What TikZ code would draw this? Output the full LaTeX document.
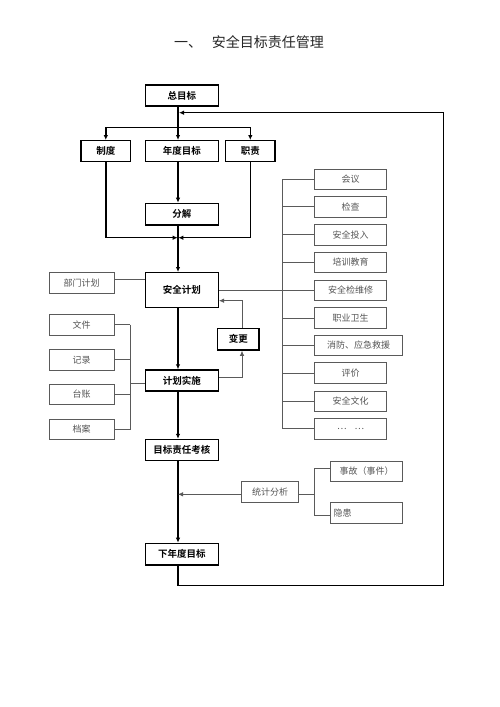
\documentclass[tikz,border=0pt]{standalone}
\usepackage{fontspec}
\newfontfamily\cjk{Noto Sans CJK SC}[BoldFont={Noto Sans CJK SC Bold}]
\usetikzlibrary{arrows.meta}
\definecolor{thin}{HTML}{5A5A5A}
\definecolor{thintext}{HTML}{555555}
\tikzset{
  mainbox/.style={draw=black, line width=1.4pt, inner sep=0pt, minimum height=21pt,
    font=\cjk\bfseries\fontsize{9.5}{10}\selectfont},
  subbox/.style={draw=thin, line width=0.8pt, inner sep=0pt, minimum height=20.6pt,
    text=thintext, font=\cjk\fontsize{9}{10}\selectfont},
  mainline/.style={line width=1.4pt, draw=black},
  mainarrow/.style={mainline, -{Latex[length=5pt,width=4.5pt]}},
  thinline/.style={draw=thin, line width=0.8pt},
  thinarrow/.style={thinline, -{Latex[length=5pt,width=4.5pt]}}
}
\begin{document}
\begin{tikzpicture}[x=1pt,y=-1pt]
\useasboundingbox (0,0) rectangle (500,707);
\fill[white] (0,0) rectangle (500,707);

\node[font=\cjk\fontsize{14}{16}\selectfont, text=black!85] (title) at (249,42) {一、\hspace{10pt}安全目标责任管理};

% main column
\node[mainbox, minimum width=73pt] (zong) at (181.8,95.5) {总目标};
\node[mainbox, minimum width=49.7pt] (zhidu) at (105.8,151.2) {制度};
\node[mainbox, minimum width=73pt] (niandu) at (181.8,151.2) {年度目标};
\node[mainbox, minimum width=49.3pt] (zhize) at (250.3,151.2) {职责};
\node[mainbox, minimum width=73pt, minimum height=21.7pt] (fenjie) at (181.8,214.2) {分解};
\node[mainbox, minimum width=73pt, minimum height=34.6pt] (anquan) at (181.8,290) {安全计划};
\node[mainbox, minimum width=41.3pt, minimum height=21.7pt] (biangeng) at (238.3,339.2) {变更};
\node[mainbox, minimum width=73pt] (shishi) at (181.8,380.5) {计划实施};
\node[mainbox, minimum width=73pt] (kaohe) at (181.8,450) {目标责任考核};
\node[mainbox, minimum width=73pt, minimum height=21.7pt] (xia) at (181.8,554.2) {下年度目标};

% left boxes
\node[subbox, minimum width=64.7pt] (bumen) at (81.7,283) {部门计划};
\node[subbox, minimum width=64.7pt] (l1) at (81.7,324.7) {文件};
\node[subbox, minimum width=64.7pt] (l2) at (81.7,359.7) {记录};
\node[subbox, minimum width=64.7pt] (l3) at (81.7,394.5) {台账};
\node[subbox, minimum width=64.7pt] (l4) at (81.7,429.5) {档案};

% right boxes
\node[subbox, minimum width=72pt] (r1) at (350.7,179.2) {会议};
\node[subbox, minimum width=72pt] (r2) at (350.7,206.8) {检查};
\node[subbox, minimum width=72pt] (r3) at (350.7,234.7) {安全投入};
\node[subbox, minimum width=72pt] (r4) at (350.7,262.5) {培训教育};
\node[subbox, minimum width=72pt] (r5) at (350.7,290.3) {安全检维修};
\node[subbox, minimum width=72pt] (r6) at (350.7,318) {职业卫生};
\node[subbox, minimum width=88pt] (r7) at (358.7,345.5) {消防、应急救援};
\node[subbox, minimum width=72pt] (r8) at (350.7,373) {评价};
\node[subbox, minimum width=72pt] (r9) at (350.7,401.2) {安全文化};
\node[subbox, minimum width=72pt] (r10) at (350.7,428.8) {…\hspace{8pt}…};

% statistics
\node[subbox, minimum width=56.6pt, minimum height=20.3pt] (tongji) at (270,491.8) {统计分析};
\node[subbox, minimum width=72pt] (shigu) at (366.7,471.2) {事故（事件）};
\node[subbox, minimum width=72pt, text width=66pt, align=left] (yinhuan) at (366.7,512.8) {隐患};

% coordinates
\coordinate (mx) at (178,0);
\coordinate (split) at (178,127.3);
\coordinate (merge) at (178,237.7);
\coordinate (fbtop) at (178,112.7);
\coordinate (fbcorner) at (443.3,585.7);
\coordinate (rbus) at (282.3,0);
\coordinate (lbus) at (130,0);
\coordinate (sbus) at (314,0);

% main flow
\draw[mainarrow] (zong.south -| mx) -- (niandu.north -| mx);
\draw[mainline] (split -| zhidu) -- (split -| zhize);
\draw[mainarrow] (split -| zhidu) -- (zhidu.north);
\draw[mainarrow] (split -| zhize) -- (zhize.north);
\draw[mainarrow] (niandu.south -| mx) -- (fenjie.north -| mx);
\draw[mainarrow] (fenjie.south -| mx) -- (anquan.north -| mx);
\draw[mainarrow] (zhidu.south) |- ([xshift=-0.3pt]merge);
\draw[mainarrow] (zhize.south) |- ([xshift=0.3pt]merge);
\draw[mainarrow] (anquan.south -| mx) -- (shishi.north -| mx);
\draw[mainarrow] (shishi.south -| mx) -- (kaohe.north -| mx);
\draw[mainarrow] (kaohe.south -| mx) -- (xia.north -| mx);
\draw[mainarrow] (xia.south -| mx) |- (fbcorner) |- ([xshift=1pt]fbtop);

% change loop
\draw[thinarrow] ([yshift=3pt]shishi.east) -| ([xshift=3.7pt]biangeng.south);
\draw[thinarrow] ([xshift=3.7pt]biangeng.north) |- ([yshift=-10.7pt]anquan.east);

% statistics arrow
\draw[thinarrow] ([yshift=-2.5pt]tongji.west) -- ([yshift=-2.5pt]tongji.west -| mx);
\draw[thinline] ([yshift=-2.5pt]tongji.east) -- ([yshift=-2.5pt]tongji.east -| sbus);
\draw[thinline] ([yshift=3pt]shigu.west -| sbus) -- ([yshift=-3pt]yinhuan.west -| sbus);
\draw[thinline] ([yshift=3pt]shigu.west -| sbus) -- ([yshift=3pt]shigu.west);
\draw[thinline] ([yshift=-3pt]yinhuan.west -| sbus) -- ([yshift=-3pt]yinhuan.west);

% plan links
\draw[thinline] ([yshift=3.5pt]bumen.east) -- ([yshift=3.5pt]bumen.east -| anquan.west);
\draw[thinline] (anquan.east) -- (anquan.east -| r5.west);
\draw[thinline] (r1.west -| rbus) -- (r10.west -| rbus);
\foreach \r in {r1,r2,r3,r4,r5,r6,r7,r8,r9,r10}
  \draw[thinline] (\r.west -| rbus) -- (\r.west);

% records
\draw[thinline] (l1.east -| lbus) -- (l4.east -| lbus);
\foreach \l in {l1,l2,l3,l4}
  \draw[thinline] (\l.east) -- (\l.east -| lbus);
\draw[thinline] ([yshift=-2.8pt]shishi.west -| lbus) -- ([yshift=-2.8pt]shishi.west);
\end{tikzpicture}
\end{document}
